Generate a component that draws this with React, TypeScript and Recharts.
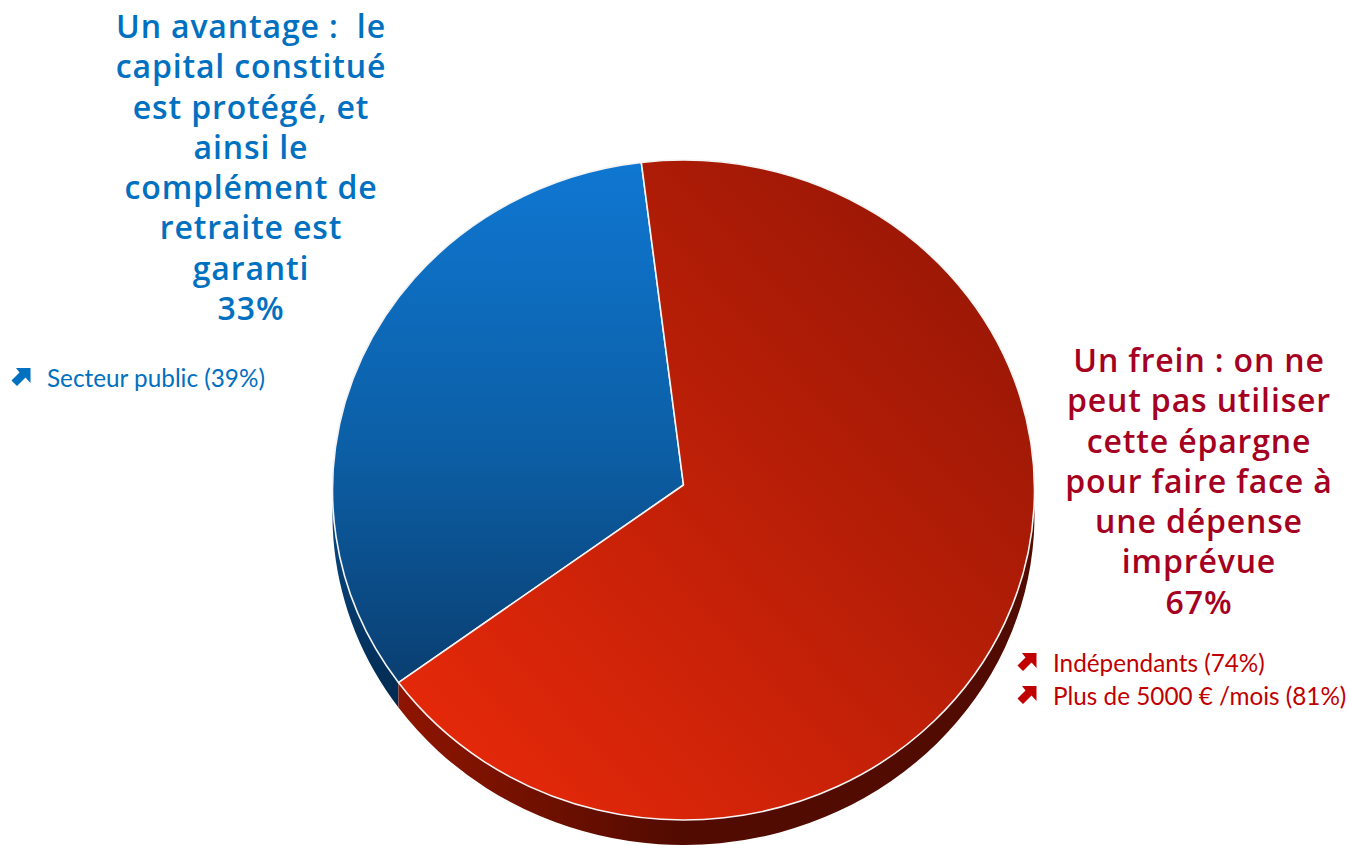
import { PieChart, Pie } from 'recharts'

const sliceNames = ['Un avantage', 'Un frein']
const sliceValues = [33, 67]
const topFills = ['url(#blueTop)', 'url(#redTop)']
const sideFills = ['url(#blueSide)', 'url(#redSide)']

const blueLines = ['Un avantage :  le', 'capital constitué', 'est protégé, et', 'ainsi le', 'complément de', 'retraite est', 'garanti', '33%']
const redLines = ['Un frein : on ne', 'peut pas utiliser', 'cette épargne', 'pour faire face à', 'une dépense', 'imprévue', '67%']
const blueNotes = ['Secteur public (39%)']
const redNotes = ['Indépendants (74%)', 'Plus de 5000 € /mois (81%)']

const topData = sliceNames.map((name, i) => ({ name, value: sliceValues[i], fill: topFills[i] }))
const sideData = sliceNames.map((name, i) => ({ name, value: sliceValues[i], fill: sideFills[i] }))

const FLATTEN = 330 / 351 // pie is seen slightly from above
const DEPTH = 25
const APEX_LIFT = 5 // the apex sits a little above the middle of the rim
const BLUE = '#0070c0'
const DARK_RED = '#a50021'
const NOTE_RED = '#c00000'

function rimPoint(cx: number, cy: number, r: number, deg: number) {
  const a = (deg * Math.PI) / 180
  return [cx + r * Math.cos(a), cy - r * FLATTEN * Math.sin(a)]
}

// eslint-disable-next-line @typescript-eslint/no-explicit-any
function TopSlice({ cx, cy, outerRadius, startAngle, endAngle, fill }: any) {
  const [x0, y0] = rimPoint(cx, cy, outerRadius, startAngle)
  const [x1, y1] = rimPoint(cx, cy, outerRadius, endAngle)
  const large = Math.abs(endAngle - startAngle) > 180 ? 1 : 0
  const d = `M${cx},${cy - APEX_LIFT} L${x0},${y0} A${outerRadius},${outerRadius * FLATTEN} 0 ${large} 0 ${x1},${y1} Z`
  return <path d={d} fill={fill} stroke="#f4f4f4" strokeWidth={1.6} strokeLinejoin="round" />
}

// eslint-disable-next-line @typescript-eslint/no-explicit-any
function SideSlice({ cx, cy, outerRadius, startAngle, endAngle, fill }: any) {
  const [x0, y0] = rimPoint(cx, cy, outerRadius, startAngle)
  const [x1, y1] = rimPoint(cx, cy, outerRadius, endAngle)
  const large = Math.abs(endAngle - startAngle) > 180 ? 1 : 0
  const ry = outerRadius * FLATTEN
  const d = `M${x0},${y0} A${outerRadius},${ry} 0 ${large} 0 ${x1},${y1} L${x1},${y1 + DEPTH} A${outerRadius},${ry} 0 ${large} 1 ${x0},${y0 + DEPTH} Z`
  return <path d={d} fill={fill} />
}

function Arrow({ color }: { color: string }) {
  return (
    <svg width={20} height={18} viewBox="0 0 20 18" style={{ position: 'absolute', left: 0, top: 4 }}>
      <path d="M5 0 H19.5 V15 L14.5 9.5 L6 18 L0.5 12.5 L8.5 4.5 Z" fill={color} />
    </svg>
  )
}

function Headline({ lines, color, center, top }: { lines: string[]; color: string; center: number; top: number }) {
  return (
    <div style={{ position: 'absolute', left: center - 200, top, width: 400, textAlign: 'center', color, fontFamily: 'Open Sans', fontWeight: 600, fontSize: 32, lineHeight: '40.3px', letterSpacing: 0.85, whiteSpace: 'pre' }}>
      {lines.map(l => <div key={l}>{l}</div>)}
    </div>
  )
}

function Notes({ notes, color, left, top }: { notes: string[]; color: string; left: number; top: number }) {
  return (
    <div style={{ position: 'absolute', left, top, color, fontFamily: 'Lato', fontSize: 24.3 }}>
      {notes.map(n => (
        <div key={n} style={{ position: 'relative', height: 33, lineHeight: '27px', paddingLeft: 36, whiteSpace: 'nowrap' }}>
          <Arrow color={color} />
          {n}
        </div>
      ))}
    </div>
  )
}

export default function App() {
  return (
    <div style={{ position: 'absolute', left: 0, top: 0, width: 1349, height: 845, overflow: 'hidden', background: '#fff' }}>
      <PieChart width={1349} height={845} margin={{ top: 0, right: 0, bottom: 0, left: 0 }}>
        <defs>
          <linearGradient id="blueTop" gradientUnits="userSpaceOnUse" x1="0" y1="160" x2="0" y2="680">
            <stop offset="0%" stopColor="#0f77d2" />
            <stop offset="55%" stopColor="#0c5fa6" />
            <stop offset="100%" stopColor="#0a3f72" />
          </linearGradient>
          <linearGradient id="redTop" gradientUnits="userSpaceOnUse" x1="430" y1="780" x2="1000" y2="260">
            <stop offset="0%" stopColor="#e8290a" />
            <stop offset="100%" stopColor="#981705" />
          </linearGradient>
          <linearGradient id="blueSide" gradientUnits="userSpaceOnUse" x1="0" y1="550" x2="0" y2="705">
            <stop offset="0%" stopColor="#07427a" />
            <stop offset="100%" stopColor="#012a50" />
          </linearGradient>
          <linearGradient id="redSide" gradientUnits="userSpaceOnUse" x1="400" y1="0" x2="680" y2="0">
            <stop offset="0%" stopColor="#8e1500" />
            <stop offset="100%" stopColor="#520b00" />
          </linearGradient>
        </defs>
        <Pie data={sideData} dataKey="value" nameKey="name" cx={683.5} cy={490} outerRadius={351} startAngle={96.9} endAngle={456.9} stroke="none" shape={SideSlice} isAnimationActive={false} />
        <Pie data={topData} dataKey="value" nameKey="name" cx={683.5} cy={490} outerRadius={351} startAngle={96.9} endAngle={456.9} shape={TopSlice} isAnimationActive={false} />
      </PieChart>
      <Headline lines={blueLines} color={BLUE} center={251} top={6} />
      <Headline lines={redLines} color={DARK_RED} center={1199} top={340} />
      <Notes notes={blueNotes} color={BLUE} left={11} top={364} />
      <Notes notes={redNotes} color={NOTE_RED} left={1017} top={649} />
    </div>
  )
}
